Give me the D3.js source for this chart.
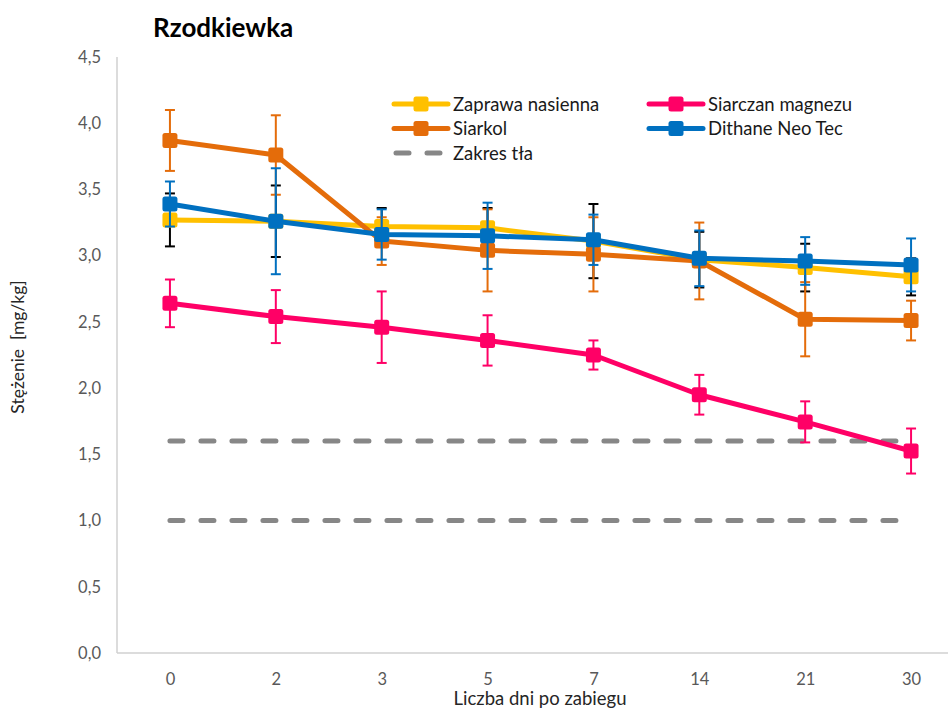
<!DOCTYPE html>
<html>
<head>
<meta charset="utf-8">
<script src="https://cdn.jsdelivr.net/npm/d3@7"></script>
<style>
  html, body { margin: 0; padding: 0; background: #fff; }
  svg { display: block; font-family: Lato, "Open Sans", sans-serif; }
</style>
</head>
<body>
<svg id="chart" width="948" height="711"></svg>
<script>
// Days after treatment (categorical axis)
const days = ["0", "2", "3", "5", "7", "14", "21", "30"];
const yTicks = [0, 0.5, 1, 1.5, 2, 2.5, 3, 3.5, 4, 4.5];

// Mean concentration [mg/kg] and error (± SD) per treatment
const zaprawa      = [3.27, 3.26, 3.22, 3.21, 3.11, 2.97, 2.91, 2.84];
const zaprawaErr   = [0.20, 0.27, 0.14, 0.15, 0.28, 0.21, 0.18, 0.14];
const siarczan     = [2.64, 2.54, 2.46, 2.36, 2.25, 1.95, 1.745, 1.525];
const siarczanErr  = [0.18, 0.20, 0.27, 0.19, 0.11, 0.15, 0.155, 0.17];
const siarkol      = [3.87, 3.76, 3.11, 3.04, 3.01, 2.96, 2.52, 2.51];
const siarkolErr   = [0.23, 0.30, 0.18, 0.31, 0.28, 0.29, 0.28, 0.15];
const dithane      = [3.39, 3.26, 3.16, 3.15, 3.12, 2.98, 2.96, 2.93];
const dithaneErr   = [0.17, 0.40, 0.19, 0.25, 0.19, 0.21, 0.18, 0.20];
// Background range (lower and upper bound)
const zakresTla    = [1.0, 1.6];

const series = [
  { name: "Zaprawa nasienna", values: zaprawa,  err: zaprawaErr,  color: "#FFC000", errColor: "#000000" },
  { name: "Siarczan magnezu", values: siarczan, err: siarczanErr, color: "#FF0066", errColor: "#FF0066" },
  { name: "Siarkol",          values: siarkol,  err: siarkolErr,  color: "#E46C0A", errColor: "#E46C0A" },
  { name: "Dithane Neo Tec",  values: dithane,  err: dithaneErr,  color: "#0070C0", errColor: "#0070C0" }
];
const bgColor = "#878787";

const svg = d3.select("#chart");

const x = d3.scalePoint().domain(days).range([117, 964]).padding(0.5);
const y = d3.scaleLinear().domain([0, 4.5]).range([653, 57]);

// Axes
svg.append("line").attr("x1", 117).attr("x2", 948)
  .attr("y1", y(0)).attr("y2", y(0))
  .attr("stroke", "#d0d0d0").attr("stroke-width", 1.5);
svg.append("line").attr("x1", 117).attr("x2", 117)
  .attr("y1", y(4.5)).attr("y2", y(0))
  .attr("stroke", "#d0d0d0").attr("stroke-width", 1.5);

const yAxis = svg.append("g").attr("transform", "translate(117,0)")
  .call(d3.axisLeft(y).tickValues(yTicks)
    .tickFormat(d => d3.format(".1f")(d).replace(".", ","))
    .tickSize(0).tickPadding(16));
yAxis.select(".domain").remove();
yAxis.selectAll("text").attr("font-size", 16.5).attr("fill", "#595959")
  .attr("font-family", "Lato, sans-serif");

const xAxis = svg.append("g").attr("transform", `translate(0,${y(0)})`)
  .call(d3.axisBottom(x).tickSize(0).tickPadding(20));
xAxis.select(".domain").remove();
xAxis.selectAll("text").attr("font-size", 16.5).attr("fill", "#595959")
  .attr("font-family", "Lato, sans-serif");

// Axis titles
svg.append("text").attr("x", 540).attr("y", 705).attr("text-anchor", "middle")
  .attr("font-size", 18.5).attr("fill", "#262626").text("Liczba dni po zabiegu");
svg.append("text").attr("transform", "translate(24,347) rotate(-90)")
  .attr("text-anchor", "middle").attr("font-size", 17.5).attr("fill", "#262626")
  .attr("xml:space", "preserve").text("Stężenie  [mg/kg]");

// Chart title
svg.append("text").attr("x", 153).attr("y", 37)
  .attr("font-size", 26).attr("font-weight", "bold").attr("fill", "#000")
  .text("Rzodkiewka");

// Background range lines
svg.append("g").selectAll("line").data(zakresTla).join("line")
  .attr("x1", x(days[0])).attr("x2", x(days[days.length - 1]))
  .attr("y1", d => y(d)).attr("y2", d => y(d))
  .attr("stroke", bgColor).attr("stroke-width", 5)
  .attr("stroke-linecap", "round").attr("stroke-dasharray", "13 18");

const line = d3.line().x((d, i) => x(days[i])).y(d => y(d));
const msize = 15;

series.forEach(s => {
  const g = svg.append("g");
  // error bars
  const eb = g.append("g").attr("stroke", s.errColor).attr("stroke-width", 2);
  s.values.forEach((v, i) => {
    const cx = x(days[i]), e = s.err[i];
    eb.append("line").attr("x1", cx).attr("x2", cx).attr("y1", y(v + e)).attr("y2", y(v - e));
    eb.append("line").attr("x1", cx - 5).attr("x2", cx + 5).attr("y1", y(v + e)).attr("y2", y(v + e));
    eb.append("line").attr("x1", cx - 5).attr("x2", cx + 5).attr("y1", y(v - e)).attr("y2", y(v - e));
  });
  g.append("path").datum(s.values).attr("d", line)
    .attr("fill", "none").attr("stroke", s.color).attr("stroke-width", 5)
    .attr("stroke-linejoin", "round");
  g.selectAll("rect").data(s.values).join("rect")
    .attr("x", (d, i) => x(days[i]) - msize / 2).attr("y", d => y(d) - msize / 2)
    .attr("width", msize).attr("height", msize).attr("rx", 2.5)
    .attr("fill", s.color);
});

// Legend
const legendItems = [
  { name: "Zaprawa nasienna", color: "#FFC000", col: 0, row: 0 },
  { name: "Siarczan magnezu", color: "#FF0066", col: 1, row: 0 },
  { name: "Siarkol",          color: "#E46C0A", col: 0, row: 1 },
  { name: "Dithane Neo Tec",  color: "#0070C0", col: 1, row: 1 },
  { name: "Zakres tła",       color: bgColor,   col: 0, row: 2, dashed: true }
];
const lg = svg.append("g");
legendItems.forEach(it => {
  const lx = 394 + it.col * 255, ly = 104 + it.row * 24.5;
  if (it.dashed) {
    lg.append("line").attr("x1", lx + 2).attr("x2", lx + 54).attr("y1", ly).attr("y2", ly)
      .attr("stroke", it.color).attr("stroke-width", 5).attr("stroke-linecap", "round")
      .attr("stroke-dasharray", "13 18");
  } else {
    lg.append("line").attr("x1", lx).attr("x2", lx + 54).attr("y1", ly).attr("y2", ly)
      .attr("stroke", it.color).attr("stroke-width", 5).attr("stroke-linecap", "round");
    lg.append("rect").attr("x", lx + 27 - 7.5).attr("y", ly - 7.5)
      .attr("width", 15).attr("height", 15).attr("rx", 2.5).attr("fill", it.color);
  }
  lg.append("text").attr("x", lx + 59).attr("y", ly + 6.5)
    .attr("font-size", 18.5).attr("fill", "#1a1a1a").text(it.name);
});
</script>
</body>
</html>
